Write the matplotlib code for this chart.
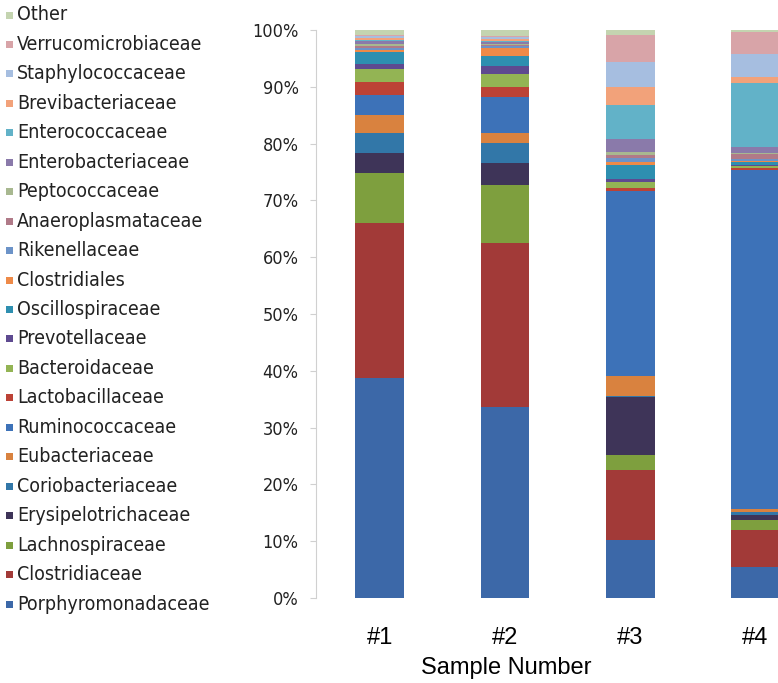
import matplotlib
matplotlib.use("Agg")
import matplotlib.pyplot as plt
from matplotlib import font_manager
from matplotlib.patches import Rectangle
import numpy as np

# sample labels
samples = ["#1", "#2", "#3", "#4"]

# families, bottom of the stack first (same order as the legend, bottom up)
families = [
    "Porphyromonadaceae", "Clostridiaceae", "Lachnospiraceae", "Erysipelotrichaceae",
    "Coriobacteriaceae", "Eubacteriaceae", "Ruminococcaceae", "Lactobacillaceae",
    "Bacteroidaceae", "Prevotellaceae", "Oscillospiraceae", "Clostridiales",
    "Rikenellaceae", "Anaeroplasmataceae", "Peptococcaceae", "Enterobacteriaceae",
    "Enterococcaceae", "Brevibacteriaceae", "Staphylococcaceae", "Verrucomicrobiaceae",
    "Other",
]

colors = [
    "#3c68a8", "#a23a38", "#7e9f3e", "#3e3458",
    "#3277a8", "#d9823f", "#3d72b8", "#bc4236",
    "#93b454", "#5e4a90", "#2e8fb0", "#ee8a48",
    "#6c93c8", "#b07a88", "#a8b890", "#8a7aaa",
    "#62b2c8", "#f2a27a", "#a6bee0", "#d8a4a8",
    "#c4d4b0",
]

# relative abundance (%) per family, for samples #1..#4
porphyromonadaceae = [38.7, 33.6, 10.2, 5.5]
clostridiaceae = [27.3, 28.9, 12.3, 6.5]
lachnospiraceae = [8.8, 10.2, 2.6, 1.8]
erysipelotrichaceae = [3.5, 3.9, 10.2, 0.9]
coriobacteriaceae = [3.5, 3.5, 0.3, 0.4]
eubacteriaceae = [3.2, 1.8, 3.5, 0.5]
ruminococcaceae = [3.5, 6.3, 32.6, 59.8]
lactobacillaceae = [2.3, 1.8, 0.5, 0.3]
bacteroidaceae = [2.3, 2.3, 1.0, 0.3]
prevotellaceae = [0.9, 1.4, 0.5, 0.3]
oscillospiraceae = [2.1, 1.8, 2.5, 0.5]
clostridiales = [0.4, 1.4, 0.5, 0.2]
rikenellaceae = [0.3, 0.3, 0.8, 0.3]
anaeroplasmataceae = [0.3, 0.2, 0.5, 0.8]
peptococcaceae = [0.4, 0.2, 0.5, 0.3]
enterobacteriaceae = [0.5, 0.3, 2.3, 1.0]
enterococcaceae = [0.3, 0.2, 6.0, 11.3]
brevibacteriaceae = [0.3, 0.3, 3.2, 1.0]
staphylococcaceae = [0.3, 0.3, 4.4, 4.1]
verrucomicrobiaceae = [0.3, 0.3, 4.8, 3.9]
other = [0.8, 1.0, 0.8, 0.3]

values = [
    porphyromonadaceae, clostridiaceae, lachnospiraceae, erysipelotrichaceae,
    coriobacteriaceae, eubacteriaceae, ruminococcaceae, lactobacillaceae,
    bacteroidaceae, prevotellaceae, oscillospiraceae, clostridiales,
    rikenellaceae, anaeroplasmataceae, peptococcaceae, enterobacteriaceae,
    enterococcaceae, brevibacteriaceae, staphylococcaceae, verrucomicrobiaceae,
    other,
]

# narrow font for legend / y ticks if there is one
names = {f.name for f in font_manager.fontManager.ttflist}
if "Liberation Sans Narrow" in names:
    narrow = dict(family="Liberation Sans Narrow")
else:
    narrow = dict(family="DejaVu Sans", stretch="condensed")

W, H = 778, 683
fig = plt.figure(figsize=(W / 100, H / 100), dpi=100)
ax = fig.add_axes([316 / W, 1 - 598 / H, (W - 316) / W, (598 - 30) / H])

x = np.arange(len(samples))
bottom = np.zeros(len(samples))
for vals, col in zip(values, colors):
    ax.bar(x, vals, width=0.39, bottom=bottom, color=col, linewidth=0)
    bottom += np.array(vals)

ax.set_xlim(-0.51, 3.18)
ax.set_ylim(0, 100)
ax.set_yticks(np.arange(0, 101, 10))
ax.set_yticklabels([f"{v}%" for v in range(0, 101, 10)], color="#222222", fontsize=13, **narrow)
ax.set_xticks(x)
ax.set_xticklabels(samples, fontsize=17, family="Liberation Sans")

for s in ["top", "right", "bottom"]:
    ax.spines[s].set_visible(False)
ax.spines["left"].set_color("#d0d0d0")
ax.tick_params(axis="y", length=4, color="#d0d0d0", pad=8.5)
ax.tick_params(axis="x", length=0, pad=21)

ax.set_xlabel("Sample Number", fontsize=17, family="Liberation Sans")
ax.xaxis.set_label_coords((506 - 316) / (W - 316), -0.104)

# legend, top row is the last family
n = len(families)
for i, (name, col) in enumerate(zip(families, colors)):
    ypx = 604 - i * (604 - 15) / (n - 1)
    fig.patches.append(Rectangle((6 / W, 1 - (ypx + 3.5) / H), 7 / W, 7 / H,
                                 transform=fig.transFigure, color=col, linewidth=0))
    fig.text(17 / W, 1 - ypx / H, name, va="center", ha="left", fontsize=14,
             color="#222222", **narrow)

fig.savefig("out.png", dpi=100)
